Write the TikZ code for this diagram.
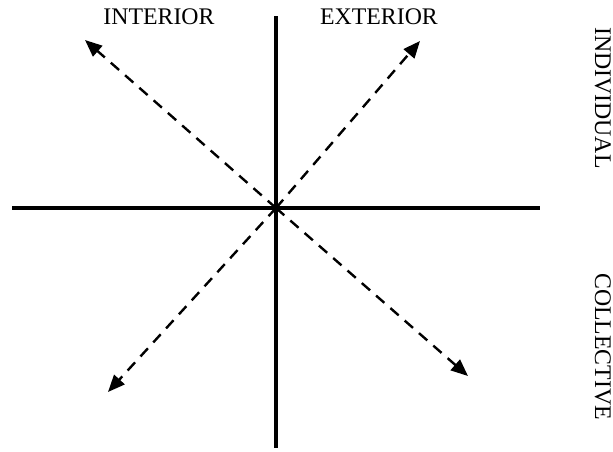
\documentclass[tikz,border=0pt]{standalone}
\usepackage{fontspec}
\setmainfont{Liberation Serif}
\usetikzlibrary{arrows.meta}
\begin{document}
\begin{tikzpicture}[x=1pt,y=-1pt,
  axis/.style={line width=3.6pt},
  diag/.style={line width=2.4pt, dash pattern=on 11pt off 8pt, -{Triangle[length=17pt,width=14pt]}, shorten >=0pt},
  lab/.style={inner sep=0pt, font=\fontsize{23.8}{28}\selectfont}]
\useasboundingbox (0,0) rectangle (613,451);
\coordinate (O) at (276,208);
\coordinate (top) at (276,16);
\coordinate (bot) at (276,448);
\coordinate (left) at (12,208);
\coordinate (right) at (540,208);
\coordinate (ul) at (85,40);
\coordinate (ur) at (420,41);
\coordinate (ll) at (108,392);
\coordinate (lr) at (468,376);
\draw[axis] (top) -- (bot);
\draw[axis] (left) -- (right);
\draw[diag] (O) -- (ul);
\draw[diag] (O) -- (ur);
\draw[diag] (O) -- (ll);
\draw[diag] (O) -- (lr);
\node[lab, anchor=base] (int) at (159,24) {INTERIOR};
\node[lab, anchor=base] (ext) at (379,24) {EXTERIOR};
\node[lab, rotate=-90, anchor=base west] (ind) at (595,27) {INDIVIDUAL};
\node[lab, rotate=-90, anchor=base west] (col) at (595,273) {COLLECTIVE};
\end{tikzpicture}
\end{document}
